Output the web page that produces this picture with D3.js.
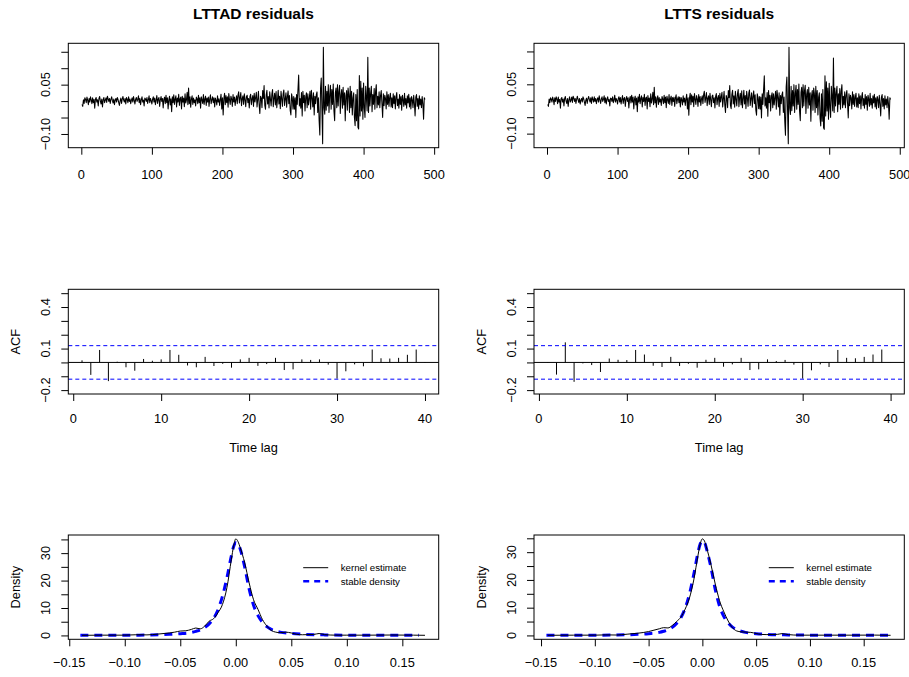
<!DOCTYPE html>
<html>
<head>
<meta charset="utf-8">
<script src="https://cdn.jsdelivr.net/npm/d3@7"></script>
<style>
  body { margin: 0; background: #fff; }
  text { font-family: "Liberation Sans", Arial, Helvetica, sans-serif; fill: #000; }
</style>
</head>
<body>
<svg id="chart" width="909" height="677"></svg>
<script>
// residual series, values in thousandths (x 1e-3), index 1..487
const residLTTAD = [
  -10, -16, 4, -7, 10, 5, -5, 12, 3, -11, 8, -3, 13, 4, -8, 10, -5, 5, -22, 6,
  11, -3, 4, -15, 8, 14, 0, -9, 6, -18, 4, 11, -5, 3, 10, -4, 15, 7, -1, 8,
  -7, 5, 13, 2, -6, 6, -11, 3, 8, -3, 11, 5, -5, -13, 1, 9, -7, 6, 14, 3,
  -3, 8, -9, 11, 5, -5, 13, -1, 6, -8, 3, 10, -3, 14, 2, -9, 6, 11, -1, 5,
  16, -5, 8, -11, 4, 13, -3, 3, -15, 9, 6, -1, 11, -7, 4, 16, -5, 8, 1, -9,
  6, 13, -3, 9, -11, 3, 17, -7, 6, 11, -16, 4, 14, -1, 8, -21, 6, 12, -8, 18,
  -5, 10, -24, 4, 15, -12, 7, -32, 13, -5, 19, -10, 6, 16, -18, 9, -3, 21, -13, 7,
  12, -24, 15, -3, 9, -17, 22, -6, 4, 27, -11, 40, -8, 13, -19, 6, 16, -10, 9, -5,
  4, -15, 12, 7, -8, 18, -5, 10, -22, 13, 4, -7, 20, -10, 6, 15, -13, 9, -3, 12,
  -16, 7, 19, -8, 4, 13, -5, 10, -18, 9, 2, -12, 16, -3, 7, -13, 5, 21, -24, 10,
  -42, 8, 24, -11, 17, -5, 13, -19, 23, 4, -10, 15, 7, -16, 20, -3, 12, -13, 5, 16,
  -8, 18, 28, -6, 10, 26, -14, 7, 16, -10, 22, 5, -17, 13, 18, -5, 8, -21, 14, 21,
  -11, 7, 17, -16, 24, -3, 11, 27, -18, 5, 30, -12, -38, 15, 9, -20, 32, 8, 47, -13,
  -25, 18, 33, -9, 14, -21, 28, 6, -15, 21, 35, -17, 9, 24, -12, 29, -20, 5, 33, -9,
  15, -23, 30, 8, -16, 22, 34, -13, 6, 25, -19, 12, 31, -8, 17, -28, -42, 22, 9, -25,
  14, -25, 10, -50, 20, -10, 35, 79, -15, 8, -22, 26, -45, 30, -5, 18, -30, 12, 25, -20,
  22, -12, 8, 30, -25, 33, 10, -18, 25, -42, 15, -8, 20, 28, -35, 10, -60, -103, 40, 70,
  -30, -130, 164, -20, -40, 45, -28, 30, -15, 50, -35, 20, 48, -25, 35, -10, 52, -30, -60, 25,
  40, -20, 50, -15, 30, 48, -38, 18, 35, -22, 42, -12, 25, -60, 15, 32, -28, 40, 20, -35,
  45, -20, 30, -42, 10, 25, -50, -75, 20, -60, 35, -80, -85, 78, -45, 60, -30, 40, -55, 55,
  -20, -50, 45, 10, -30, 133, -35, 40, -15, 25, 45, -32, 20, -10, 38, -25, 30, 50, -20, 15,
  -12, 28, -20, 16, 32, -8, -50, 22, -14, 18, 8, -24, 28, -10, 20, -16, 12, 24, -18, 10,
  -20, 22, -8, 16, -24, 12, 26, -14, 6, -22, 20, -10, 14, -28, 18, 4, -16, 24, -12, 8,
  -22, 16, -6, 21, -18, 10, -24, 14, 4, -20, 18, -8, -45, 12, 20, -16, 8, -24, 16, -12,
  6, -20, 14, -8, -55, 10, 5
];
const residLTTS = [
  -11, -17, 5, -6, 9, 5, -4, 11, 3, -12, 9, -2, 12, 5, -9, 11, -4, 4, -23, 7,
  10, -4, 5, -16, 7, 13, -1, -8, 7, -17, 3, 12, -4, 2, 11, -5, 14, 8, -2, 7,
  -8, 4, 14, 3, -5, 7, -10, 2, 7, -4, 12, 6, -4, -14, 2, 8, -8, 5, 13, 4,
  -4, 9, -8, 12, 4, -4, 12, -2, 7, -9, 4, 9, -4, 15, 3, -8, 5, 12, -2, 4,
  15, -6, 9, -10, 5, 12, -2, 4, -16, 8, 7, -2, 12, -6, 3, 17, -4, 7, 2, -10,
  7, 12, -4, 10, -10, 4, 16, -8, 7, 10, -17, 5, 13, -2, 9, -22, 5, 13, -7, 17,
  -4, 11, -25, 5, 14, -13, 8, -33, 12, -4, 20, -9, 7, 15, -19, 10, -2, 20, -14, 8,
  11, -25, 16, -2, 8, -18, 21, -7, 5, 26, -12, 41, -7, 12, -20, 7, 15, -11, 10, -4,
  5, -14, 13, 6, -9, 17, -6, 11, -21, 14, 3, -8, 19, -11, 7, 14, -14, 10, -2, 11,
  -17, 8, 18, -9, 5, 12, -6, 11, -19, 10, 3, -13, 15, -4, 8, -14, 6, 20, -25, 9,
  -44, 9, 23, -12, 18, -4, 14, -18, 22, 5, -11, 16, 6, -17, 19, -4, 13, -14, 6, 15,
  -9, 19, 29, -5, 9, 25, -15, 8, 15, -11, 23, 4, -18, 14, 17, -6, 9, -22, 13, 22,
  -12, 8, 16, -17, 23, -4, 12, 26, -19, 6, 29, -13, -36, 16, 8, -21, 31, 9, 46, -14,
  -24, 19, 32, -10, 15, -20, 29, 5, -16, 22, 34, -18, 10, 23, -13, 30, -21, 6, 32, -10,
  16, -24, 29, 9, -17, 23, 33, -14, 7, 24, -20, 13, 30, -9, 18, -29, -44, 21, 10, -24,
  13, -26, 11, -52, 21, -11, 34, 76, -16, 9, -23, 25, -47, 31, -6, 17, -31, 13, 24, -21,
  21, -13, 9, 29, -26, 32, 11, -19, 24, -44, 16, -9, 19, 27, -36, 11, -62, -105, 42, 72,
  -32, -131, 163, -22, -42, 44, -30, 31, -16, 49, -36, 21, 47, -26, 34, -11, 51, -31, -61, 26,
  41, -21, 49, -16, 31, 47, -39, 19, 34, -23, 41, -13, 24, -62, 16, 31, -29, 39, 21, -36,
  44, -21, 31, -43, 11, 24, -52, -77, 21, -62, 34, -82, -87, 76, -46, 58, -31, 39, -56, 53,
  -21, -51, 44, 11, -31, 130, -36, 39, -16, 24, 44, -33, 21, -11, 37, -26, 29, 49, -21, 14,
  -13, 27, -21, 17, 31, -9, -52, 21, -15, 17, 9, -25, 27, -11, 19, -17, 11, 23, -19, 9,
  -21, 21, -9, 15, -25, 11, 25, -15, 7, -23, 19, -11, 13, -29, 17, 5, -17, 23, -13, 7,
  -23, 15, -7, 20, -19, 9, -25, 13, 5, -21, 17, -9, -46, 11, 19, -17, 7, -25, 15, -13,
  5, -21, 13, -9, -56, 9, 4
];

// autocorrelations, lags 1..40
const acfLTTAD = [0.015, -0.09, 0.09, -0.135, 0.005, -0.035, -0.06, 0.025, 0.012, 0.022,
  0.09, 0.055, -0.022, -0.035, 0.04, -0.026, -0.01, -0.038, 0.022, 0.033,
  -0.025, -0.012, 0.033, -0.055, -0.05, 0.022, 0.018, 0.022, -0.016, -0.117,
  -0.064, -0.014, -0.028, 0.093, 0.03, 0.028, 0.033, 0.055, 0.093, 0.003];
const acfLTTS = [0.002, -0.088, 0.145, -0.14, -0.007, -0.019, -0.069, 0.028, 0.019, 0.017,
  0.09, 0.057, -0.024, -0.033, 0.04, -0.026, -0.01, -0.038, 0.019, 0.033,
  -0.031, -0.014, 0.033, -0.055, -0.05, 0.022, 0.01, 0.018, -0.016, -0.117,
  -0.057, -0.014, -0.033, 0.09, 0.033, 0.03, 0.04, 0.057, 0.093, 0.002];
const acfBand = 0.121;

// kernel estimate and fitted stable density
const kernXLTTAD = [-0.1385, -0.12, -0.10, -0.09, -0.08, -0.07, -0.06, -0.055, -0.05, -0.045, -0.04, -0.036, -0.032, -0.028, -0.024, -0.02, -0.016, -0.012, -0.008, -0.004, -0.002, 0, 0.002, 0.004, 0.008, 0.012, 0.016, 0.02, 0.024, 0.028, 0.032, 0.036, 0.04, 0.045, 0.05, 0.055, 0.06, 0.07, 0.075, 0.08, 0.09, 0.10, 0.12, 0.14, 0.16, 0.1704];
const kernYLTTAD = [0.05, 0.1, 0.1, 0.25, 0.2, 0.5, 0.9, 1.2, 1.6, 1.7, 2.2, 2.7, 2.4, 3.4, 5.2, 6.1, 8.3, 11.3, 17.4, 27.7, 32.5, 35.2, 34.2, 32, 26.5, 19.2, 13, 9.5, 5.8, 3.4, 1.8, 1.2, 1.0, 1.2, 0.9, 0.4, 0.25, 0.35, 0.7, 0.3, 0.1, 0.1, 0.1, 0.15, 0.1, 0.05];
const stabXLTTAD = [-0.14, -0.12, -0.10, -0.08, -0.06, -0.05, -0.04, -0.036, -0.032, -0.028, -0.024, -0.02, -0.016, -0.012, -0.008, -0.004, -0.002, 0, 0.002, 0.004, 0.008, 0.012, 0.016, 0.02, 0.024, 0.028, 0.032, 0.036, 0.04, 0.05, 0.06, 0.08, 0.10, 0.13, 0.165];
const stabYLTTAD = [0.05, 0.06, 0.08, 0.15, 0.4, 0.65, 1.1, 1.5, 2.0, 2.9, 4.2, 6.2, 9.4, 14.3, 21, 29, 32.3, 33.8, 33.5, 31.5, 25, 17, 11, 7.2, 4.8, 3.2, 2.2, 1.6, 1.2, 0.7, 0.45, 0.2, 0.1, 0.06, 0.04];

const kernXLTTS = [-0.1438, -0.12, -0.10, -0.09, -0.08, -0.07, -0.06, -0.05, -0.045, -0.04, -0.036, -0.032, -0.028, -0.024, -0.02, -0.016, -0.012, -0.008, -0.004, -0.002, 0, 0.002, 0.004, 0.008, 0.012, 0.016, 0.02, 0.024, 0.028, 0.032, 0.036, 0.04, 0.045, 0.05, 0.055, 0.06, 0.07, 0.074, 0.08, 0.09, 0.10, 0.12, 0.14, 0.16, 0.175];
const kernYLTTS = [0.05, 0.1, 0.1, 0.2, 0.15, 0.45, 0.8, 1.4, 1.9, 2.4, 2.8, 2.7, 3.6, 5.0, 6.6, 9.5, 13.5, 20, 29, 33, 34.8, 34, 31.5, 25.5, 18.5, 12.5, 8.5, 5.2, 2.8, 1.6, 1.3, 1.2, 1.1, 0.7, 0.35, 0.3, 0.4, 0.65, 0.3, 0.1, 0.1, 0.1, 0.1, 0.12, 0.05];
const stabXLTTS = [-0.145, -0.12, -0.10, -0.08, -0.06, -0.05, -0.04, -0.036, -0.032, -0.028, -0.024, -0.02, -0.016, -0.012, -0.008, -0.004, -0.002, 0, 0.002, 0.004, 0.008, 0.012, 0.016, 0.02, 0.024, 0.028, 0.032, 0.036, 0.04, 0.05, 0.06, 0.08, 0.10, 0.13, 0.175];
const stabYLTTS = [0.05, 0.06, 0.08, 0.15, 0.4, 0.65, 1.1, 1.5, 2.0, 2.9, 4.3, 6.4, 9.8, 15, 22, 30, 33, 34, 33.5, 31, 24.5, 16.5, 10.5, 6.8, 4.5, 3.0, 2.1, 1.5, 1.1, 0.65, 0.4, 0.18, 0.1, 0.06, 0.04];

const titles = ["LTTAD residuals", "LTTS residuals"];
const tsXTicks = [0, 100, 200, 300, 400, 500];
const tsYTicks = [-0.10, -0.05, 0, 0.05, 0.10, 0.15];
const tsYLabels = [-0.10, 0.05];
const acfXTicks = [0, 10, 20, 30, 40];
const acfYTicks = [-0.2, -0.1, 0, 0.1, 0.2, 0.3, 0.4, 0.5];
const acfYLabels = [-0.2, 0.1, 0.4];
const denXTicks = [-0.15, -0.10, -0.05, 0, 0.05, 0.10, 0.15];
const denYTicks = [0, 5, 10, 15, 20, 25, 30, 35];
const denYLabels = [0, 10, 20, 30];
const legendLabels = ["kernel estimate", "stable density"];

const panels = [
  { resid: residLTTAD, acf: acfLTTAD, kx: kernXLTTAD, ky: kernYLTTAD, sx: stabXLTTAD, sy: stabYLTTAD },
  { resid: residLTTS, acf: acfLTTS, kx: kernXLTTS, ky: kernYLTTS, sx: stabXLTTS, sy: stabYLTTS }
];

const svg = d3.select("#chart");
const cols = [{ x0: 68.3, x1: 438.7 }, { x0: 534, x1: 904.3 }];
const rowTS = { y0: 43.3, y1: 147.7 };
const rowACF = { y0: 289.3, y1: 394 };
const rowDen = { y0: 535, y1: 639.3 };
const tickFont = 12.8;

// R style axis range: data range stretched 4% each side
function pad(ext) {
  const d = (ext[1] - ext[0]) * 0.04;
  return [ext[0] - d, ext[1] + d];
}

function box(col, row) {
  svg.append("rect")
    .attr("x", col.x0).attr("y", row.y0)
    .attr("width", col.x1 - col.x0).attr("height", row.y1 - row.y0)
    .attr("fill", "none").attr("stroke", "#000").attr("stroke-width", 1);
}

function bottomAxis(scale, row, ticks, baseline, fmt) {
  svg.append("g")
    .attr("transform", `translate(0,${row.y1})`)
    .call(d3.axisBottom(scale).tickValues(ticks).tickSize(7).tickSizeOuter(0).tickFormat(""))
    .call((g) => g.select(".domain").remove());
  svg.append("g").selectAll("text").data(ticks).join("text")
    .attr("x", (d) => scale(d)).attr("y", baseline)
    .attr("text-anchor", "middle").attr("font-size", tickFont)
    .text(fmt);
}

function leftAxis(scale, col, ticks, labels, fmt) {
  svg.append("g")
    .attr("transform", `translate(${col.x0},0)`)
    .call(d3.axisLeft(scale).tickValues(ticks).tickSize(7).tickSizeOuter(0).tickFormat(""))
    .call((g) => g.select(".domain").remove());
  svg.append("g").selectAll("text").data(labels).join("text")
    .attr("transform", (d) => `translate(${col.x0 - 18},${scale(d)}) rotate(-90)`)
    .attr("text-anchor", "middle").attr("font-size", tickFont)
    .text(fmt);
}

function yTitle(col, row, label) {
  svg.append("text")
    .attr("transform", `translate(${col.x0 - 48},${(row.y0 + row.y1) / 2}) rotate(-90)`)
    .attr("text-anchor", "middle").attr("font-size", tickFont)
    .text(label);
}

const fmt2 = (d) => d3.format(".2f")(d).replace("-", "\u2212");
const fmt1 = (d) => d3.format(".1f")(d).replace("-", "\u2212");
const fmtInt = (d) => d3.format("d")(d);

panels.forEach((p, k) => {
  const col = cols[k];

  // title
  svg.append("text")
    .attr("x", (col.x0 + col.x1) / 2).attr("y", 18.5)
    .attr("text-anchor", "middle").attr("font-size", 15.5).attr("font-weight", "bold")
    .text(titles[k]);

  // residual time series
  const vals = p.resid.map((v) => v / 1000);
  const xTS = d3.scaleLinear().domain(pad([1, vals.length])).range([col.x0, col.x1]);
  const yTS = d3.scaleLinear().domain(pad(d3.extent(vals))).range([rowTS.y1, rowTS.y0]);
  svg.append("path")
    .datum(vals)
    .attr("fill", "none").attr("stroke", "#000").attr("stroke-width", 1.05)
    .attr("stroke-linejoin", "round")
    .attr("d", d3.line().x((d, i) => xTS(i + 1)).y((d) => yTS(d)));
  box(col, rowTS);
  bottomAxis(xTS, rowTS, tsXTicks, rowTS.y1 + 30.8, fmtInt);
  leftAxis(yTS, col, tsYTicks, tsYLabels, fmt2);

  // ACF
  const lags = d3.range(1, p.acf.length + 1);
  const xA = d3.scaleLinear().domain(pad([1, lags.length])).range([col.x0, col.x1]);
  const yA = d3.scaleLinear().domain(pad([-0.2, 0.5])).range([rowACF.y1, rowACF.y0]);
  svg.append("line")
    .attr("x1", col.x0).attr("x2", col.x1).attr("y1", yA(0)).attr("y2", yA(0))
    .attr("stroke", "#000").attr("stroke-width", 1);
  svg.append("g").selectAll("line").data(p.acf).join("line")
    .attr("x1", (d, i) => xA(lags[i])).attr("x2", (d, i) => xA(lags[i]))
    .attr("y1", yA(0)).attr("y2", (d) => yA(d))
    .attr("stroke", "#000").attr("stroke-width", 1);
  svg.append("g").selectAll("line").data([acfBand, -acfBand]).join("line")
    .attr("x1", col.x0).attr("x2", col.x1)
    .attr("y1", (d) => yA(d)).attr("y2", (d) => yA(d))
    .attr("stroke", "#0000ff").attr("stroke-width", 1).attr("stroke-dasharray", "4,3");
  box(col, rowACF);
  bottomAxis(xA, rowACF, acfXTicks, rowACF.y1 + 29, fmtInt);
  leftAxis(yA, col, acfYTicks, acfYLabels, fmt1);
  yTitle(col, rowACF, "ACF");
  svg.append("text")
    .attr("x", (col.x0 + col.x1) / 2).attr("y", 451.5)
    .attr("text-anchor", "middle").attr("font-size", tickFont)
    .text("Time lag");

  // densities
  const xD = d3.scaleLinear().domain(pad(d3.extent(p.kx))).range([col.x0, col.x1]);
  const yD = d3.scaleLinear()
    .domain(pad([0, Math.max(d3.max(p.ky), d3.max(p.sy))]))
    .range([rowDen.y1, rowDen.y0]);
  const dline = d3.line().x((d) => xD(d[0])).y((d) => yD(d[1])).curve(d3.curveMonotoneX);
  svg.append("path")
    .datum(d3.zip(p.sx, p.sy))
    .attr("fill", "none").attr("stroke", "#0000ff").attr("stroke-width", 3)
    .attr("stroke-dasharray", "8,6")
    .attr("d", dline);
  svg.append("path")
    .datum(d3.zip(p.kx, p.ky))
    .attr("fill", "none").attr("stroke", "#000").attr("stroke-width", 1)
    .attr("d", dline);
  box(col, rowDen);
  bottomAxis(xD, rowDen, denXTicks, rowDen.y1 + 27.6, fmt2);
  leftAxis(yD, col, denYTicks, denYLabels, fmtInt);
  yTitle(col, rowDen, "Density");

  // legend (no frame)
  const lx = col.x1 - 135.5;
  const leg = svg.append("g");
  const items = [
    { label: legendLabels[0], stroke: "#000", width: 1, dash: null, y: 567.7 },
    { label: legendLabels[1], stroke: "#0000ff", width: 2.5, dash: "6,5", y: 581.3 }
  ];
  items.forEach((it) => {
    leg.append("line")
      .attr("x1", lx).attr("x2", lx + 25).attr("y1", it.y).attr("y2", it.y)
      .attr("stroke", it.stroke).attr("stroke-width", it.width)
      .attr("stroke-dasharray", it.dash);
    leg.append("text")
      .attr("x", lx + 37.5).attr("y", it.y).attr("dy", "0.35em")
      .attr("font-size", 9.7)
      .text(it.label);
  });
});
</script>
</body>
</html>
